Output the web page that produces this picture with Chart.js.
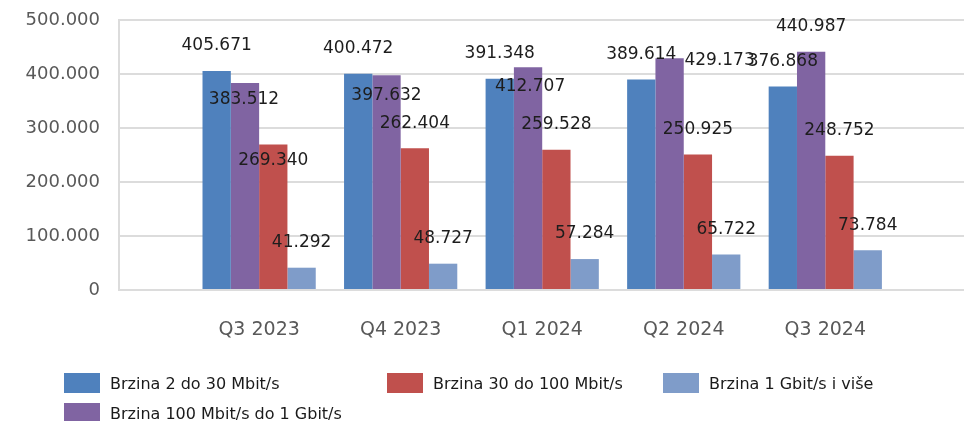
<!DOCTYPE html>
<html>
<head>
<meta charset="utf-8">
<script src="https://cdn.jsdelivr.net/npm/chart.js@4/dist/chart.umd.min.js"></script>
<style>
  html, body { margin: 0; padding: 0; background: #fff; }
  #wrap { position: relative; width: 964px; height: 421px; overflow: hidden; }
  #legend {
    position: absolute; left: 64px; top: 373px;
    display: grid; grid-template-columns: 323px 276px auto; row-gap: 10px;
    font-family: "DejaVu Sans", sans-serif; font-size: 16px; color: #1a1a1a;
  }
  .item { display: flex; align-items: center; height: 20px; white-space: nowrap; }
  .box { width: 36px; height: 20px; margin-right: 10px; }
</style>
</head>
<body>
<div id="wrap">
  <canvas id="chart" width="964" height="421"></canvas>
  <div id="legend"></div>
</div>
<script>
// kategorije (kvartali)
const kvartali = ['Q3 2023', 'Q4 2023', 'Q1 2024', 'Q2 2024', 'Q3 2024'];

// broj priključaka po brzini
const brzina2do30 = [405671, 400472, 391348, 389614, 376868];
const brzina100do1G = [383512, 397632, 412707, 429173, 440987];
const brzina30do100 = [269340, 262404, 259528, 250925, 248752];
const brzina1Gplus = [41292, 48727, 57284, 65722, 73784];

const yTicks = [0, 100000, 200000, 300000, 400000, 500000];

// redoslijed u legendi (kao u originalu)
const legendOrder = [0, 2, 3, 1];

// formatiranje s točkom kao separatorom tisućica
function fmt(v) {
  return String(v).replace(/\B(?=(\d{3})+(?!\d))/g, '.');
}

const datasets = [
  { label: 'Brzina 2 do 30 Mbit/s', values: brzina2do30, color: '#4F81BD' },
  { label: 'Brzina 100 Mbit/s do 1 Gbit/s', values: brzina100do1G, color: '#8064A2' },
  { label: 'Brzina 30 do 100 Mbit/s', values: brzina30do100, color: '#C0504D' },
  { label: 'Brzina 1 Gbit/s i više', values: brzina1Gplus, color: '#7F9CC9' }
].map(d => ({
  label: d.label,
  data: d.values.map((v, i) => ({ x: i, y: v })),
  backgroundColor: d.color,
  borderWidth: 0,
  categoryPercentage: 0.8,
  barPercentage: 1
}));

// oznake vrijednosti iznad stupaca (neke su pomaknute kao u Excelu)
const valueLabels = {
  id: 'valueLabels',
  afterDatasetsDraw(chart, args, opts) {
    const ctx = chart.ctx;
    ctx.save();
    ctx.font = opts.font;
    ctx.fillStyle = opts.color;
    ctx.textAlign = 'center';
    ctx.textBaseline = 'middle';
    chart.data.datasets.forEach((ds, di) => {
      chart.getDatasetMeta(di).data.forEach((bar, i) => {
        const shift = opts.shifts[di + ':' + i] || [0, opts.dy];
        ctx.fillText(fmt(ds.data[i].y), bar.x + shift[0], bar.y + shift[1]);
      });
    });
    ctx.restore();
  }
};

const chart = new Chart(document.getElementById('chart'), {
  type: 'bar',
  data: { datasets: datasets },
  plugins: [valueLabels],
  options: {
    responsive: false,
    animation: false,
    layout: { padding: { top: 20, right: 0, bottom: 81, left: 0 } },
    plugins: {
      legend: { display: false },
      tooltip: { enabled: false },
      valueLabels: {
        font: '17px "DejaVu Sans"',
        color: '#1d1d1d',
        dy: -25,
        shifts: { '1:0': [-1, 17], '1:1': [0, 20], '2:0': [0, 16], '1:2': [2, 19], '1:3': [50, 2] }
      }
    },
    scales: {
      x: {
        type: 'linear',
        offset: false,
        min: -0.99,
        max: 4.98,
        grid: { display: false },
        border: { display: false },
        afterBuildTicks: s => { s.ticks = kvartali.map((k, i) => ({ value: i })); },
        afterFit: s => { s.height = 50; s.paddingLeft = 0; s.paddingRight = 0; },
        ticks: {
          autoSkip: false,
          maxRotation: 0,
          padding: 21,
          color: '#595959',
          font: { family: 'DejaVu Sans', size: 19 },
          callback: v => kvartali[v]
        }
      },
      y: {
        min: 0,
        max: 500000,
        afterBuildTicks: s => { s.ticks = yTicks.map(v => ({ value: v })); },
        afterFit: s => { s.width = 119; s.paddingTop = 0; s.paddingBottom = 0; },
        grid: { color: '#DCDCDC', lineWidth: 2, drawTicks: false },
        border: { display: true, color: '#DCDCDC', width: 2 },
        ticks: {
          padding: 19,
          color: '#595959',
          font: { family: 'DejaVu Sans', size: 18 },
          callback: v => fmt(v)
        }
      }
    }
  }
});

// legenda u HTML-u
const legend = document.getElementById('legend');
legendOrder.forEach(di => {
  const ds = chart.data.datasets[di];
  const item = document.createElement('div');
  item.className = 'item';
  item.innerHTML = `<span class="box" style="background:${ds.backgroundColor}"></span>${ds.label}`;
  legend.appendChild(item);
});
</script>
</body>
</html>
